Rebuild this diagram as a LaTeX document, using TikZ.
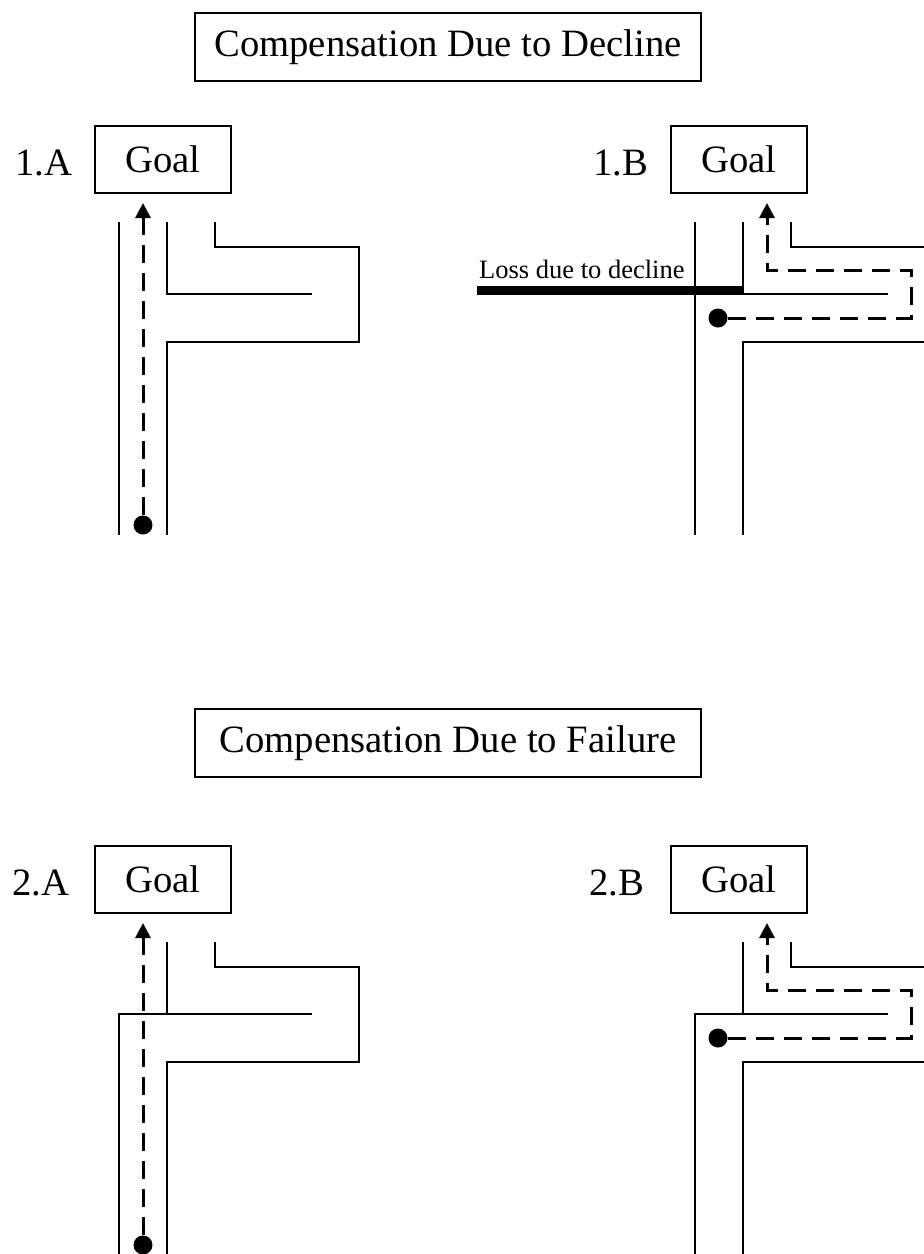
\documentclass[tikz,border=0pt]{standalone}
\usepackage{fontspec}
\setmainfont{Liberation Serif}
\usetikzlibrary{arrows.meta}
\begin{document}
\begin{tikzpicture}[x=1pt,y=-1pt,
  wall/.style={line width=2pt},
  titlebox/.style={draw,line width=2pt,minimum width=506pt,minimum height=68pt,inner sep=0pt,font=\fontsize{38.7pt}{46pt}\selectfont},
  goalbox/.style={draw,line width=2pt,minimum width=136pt,minimum height=67pt,inner sep=0pt,font=\fontsize{38.7pt}{46pt}\selectfont},
  panellabel/.style={anchor=base west,inner sep=0pt,font=\fontsize{38.7pt}{46pt}\selectfont},
  ball/.style={circle,fill=black,minimum size=19pt,inner sep=0pt},
  route/.style={line width=3pt,dash pattern=on 18pt off 10pt,-{Triangle[width=15pt,length=15pt]}},
  lossbar/.style={line width=9pt}
]
\useasboundingbox (0,0) rectangle (924,1254);

% titles
\node[titlebox] (t1) at (448,47) {Compensation Due to Decline};
\node[titlebox] (t2) at (448,743) {Compensation Due to Failure};

% goal boxes
\node[goalbox] (g1a) at (163,159.5) {Goal};
\node[goalbox] (g1b) at (739,159.5) {Goal};
\node[goalbox] (g2a) at (163,879.5) {Goal};
\node[goalbox] (g2b) at (739,879.5) {Goal};

% panel labels
\node[panellabel] (l1a) at (15,175) {1.A};
\node[panellabel] (l1b) at (593,175) {1.B};
\node[panellabel] (l2a) at (12,895) {2.A};
\node[panellabel] (l2b) at (589,895) {2.B};

% ---------- 1.A ----------
\draw[wall] (119,222) -- (119,535);
\draw[wall] (167,222) -- (167,294) -- (312,294);
\draw[wall] (167,535) -- (167,342) -- (359,342) -- (359,247) -- (215,247) -- (215,222);
\node[ball] (d1a) at (143,525) {};
\coordinate (a1a) at (143,203);
\draw[route] (d1a) -- (a1a);

% ---------- 1.B ----------
\draw[wall] (695,222) -- (695,535);
\draw[wall] (743,222) -- (743,294) -- (888,294);
\draw[wall] (743,535) -- (743,342) -- (924,342);
\draw[wall] (924,247) -- (791,247) -- (791,222);
\draw[lossbar] (477,290.5) -- (744,290.5);
\node[anchor=base west,inner sep=0pt,font=\fontsize{26.5pt}{32pt}\selectfont] (loss) at (479,278) {Loss due to decline};
\node[ball] (d1b) at (718,318) {};
\coordinate (a1b) at (767,203);
\draw[route] (d1b) -- (911,318) -- (911,270) -- (767,270) -- (a1b);

% ---------- 2.A ----------
\draw[wall] (167,942) -- (167,1014);
\draw[wall] (119,1254) -- (119,1014) -- (312,1014);
\draw[wall] (167,1254) -- (167,1062) -- (359,1062) -- (359,967) -- (215,967) -- (215,942);
\node[ball] (d2a) at (143,1245) {};
\coordinate (a2a) at (143,923);
\draw[route] (d2a) -- (a2a);

% ---------- 2.B ----------
\draw[wall] (743,942) -- (743,1014);
\draw[wall] (695,1254) -- (695,1014) -- (888,1014);
\draw[wall] (743,1254) -- (743,1062) -- (924,1062);
\draw[wall] (924,967) -- (791,967) -- (791,942);
\node[ball] (d2b) at (718,1038) {};
\coordinate (a2b) at (767,923);
\draw[route] (d2b) -- (911,1038) -- (911,990) -- (767,990) -- (a2b);
\end{tikzpicture}
\end{document}
